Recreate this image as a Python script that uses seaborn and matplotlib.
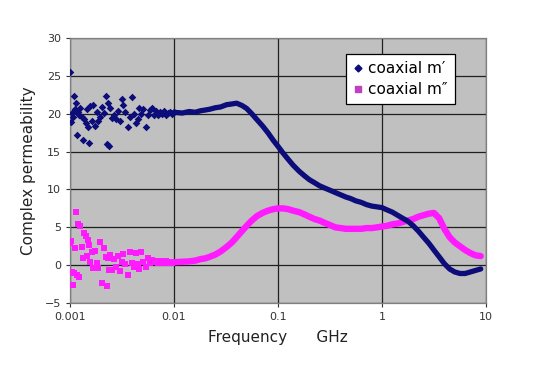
import numpy as np
import pandas as pd
import matplotlib
matplotlib.use('Agg')
import matplotlib.pyplot as plt
from matplotlib.lines import Line2D
import seaborn as sns

# --- DATA ---
# noisy low-frequency part, GHz
LF_FREQ = [0.001000, 0.001022, 0.001045, 0.001069, 0.001093, 0.001117, 0.001142, 0.001168,
           0.001194, 0.001220, 0.001248, 0.001305, 0.001334, 0.001363, 0.001425, 0.001457,
           0.001490, 0.001523, 0.001557, 0.001628, 0.001664, 0.001740, 0.001818, 0.001859,
           0.001943, 0.002031, 0.002123, 0.002219, 0.002269, 0.002320, 0.002371, 0.002424,
           0.002534, 0.002649, 0.002769, 0.002894, 0.003025, 0.003162, 0.003233, 0.003380,
           0.003612, 0.003776, 0.003947, 0.004126, 0.004313, 0.004509, 0.004610, 0.004818,
           0.005037, 0.005382, 0.005623, 0.005878, 0.006144, 0.006423, 0.006714, 0.007019,
           0.007337, 0.007669, 0.008017, 0.008381, 0.008761, 0.009158, 0.009567, 0.010000]
LF_M1 = [25.5, 18.9, 20.1, 19.6, 22.3, 20.6, 21.4, 17.2,
         20.3, 19.9, 20.8, 19.6, 16.6, 19.3, 18.8, 20.6,
         18.3, 16.1, 21.0, 19.0, 21.2, 18.4, 20.2, 19.1,
         19.6, 20.9, 20.1, 22.3, 16.0, 21.4, 15.7, 20.7,
         19.5, 19.9, 19.3, 20.4, 19.0, 21.9, 21.2, 20.3,
         18.3, 19.6, 22.2, 20.0, 18.8, 19.3, 20.7, 20.0,
         20.6, 18.3, 19.8, 20.5, 20.8, 19.9, 20.4, 19.8,
         20.3, 20.0, 20.4, 19.9, 20.1, 20.3, 20.0, 20.2]
LF_M2 = [2.9, 3.2, -0.9, -2.6, -1.0, 2.3, 7.0, -1.3,
         5.4, -1.6, 5.2, 2.4, 0.9, 4.2, 3.8, 1.2,
         3.3, 2.6, 0.4, 1.7, -0.4, 1.9, 0.3, -0.4,
         3.0, -2.4, 2.3, 1.1, -2.7, 0.9, -0.6, 1.4,
         -0.6, 0.8, -0.3, 1.2, -0.8, 0.4, 1.5, 0.2,
         -1.3, 1.8, 0.3, -0.3, 1.6, 0.2, -0.5, 1.8,
         0.4, -0.2, 0.9, 0.3, 0.7, 0.4, 0.6, 0.3,
         0.5, 0.4, 0.3, 0.5, 0.3, 0.4, 0.3, 0.4]

# smooth part, GHz
HF_FREQ = [0.010, 0.012, 0.014, 0.016, 0.018, 0.020, 0.022, 0.025, 0.028, 0.032,
           0.036, 0.040, 0.045, 0.050, 0.056, 0.063, 0.071, 0.080, 0.090, 0.100,
           0.112, 0.125, 0.140, 0.160, 0.180, 0.200, 0.224, 0.250, 0.280, 0.316,
           0.355, 0.400, 0.450, 0.500, 0.560, 0.630, 0.710, 0.800, 0.900, 1.00,
           1.12, 1.26, 1.41, 1.58, 1.78, 2.00, 2.24, 2.51, 2.82, 3.16,
           3.55, 3.98, 4.47, 5.01, 5.62, 6.31, 7.08, 7.94, 8.91]
HF_M1 = [20.2, 20.1, 20.3, 20.2, 20.4, 20.5, 20.6, 20.8, 20.9, 21.2,
         21.3, 21.4, 21.1, 20.7, 20.0, 19.2, 18.4, 17.5, 16.5, 15.7,
         14.8, 14.0, 13.2, 12.4, 11.8, 11.3, 10.9, 10.5, 10.2, 9.9,
         9.6, 9.3, 9.0, 8.8, 8.5, 8.3, 8.0, 7.8, 7.7, 7.6,
         7.3, 7.0, 6.6, 6.2, 5.8, 5.2, 4.5, 3.7, 2.9, 2.0,
         1.1, 0.2, -0.5, -0.9, -1.1, -1.1, -0.9, -0.7, -0.5]
HF_M2 = [0.4, 0.45, 0.5, 0.6, 0.8, 0.9, 1.1, 1.4, 1.8, 2.4,
         3.0, 3.7, 4.5, 5.2, 5.9, 6.5, 6.9, 7.2, 7.4, 7.5,
         7.5, 7.4, 7.2, 7.0, 6.7, 6.4, 6.1, 5.9, 5.6, 5.3,
         5.0, 4.9, 4.8, 4.8, 4.8, 4.8, 4.9, 4.9, 5.0, 5.1,
         5.2, 5.4, 5.5, 5.7, 5.9, 6.1, 6.4, 6.6, 6.8, 6.9,
         6.2, 4.8, 3.7, 3.0, 2.5, 2.0, 1.6, 1.3, 1.2]

LABELS = ["coaxial m\u2032", "coaxial m\u2033"]
NAVY = "#0c0c7a"
MAGENTA = "#ff1aff"

lf = pd.DataFrame({"freq": LF_FREQ, "m1": LF_M1, "m2": LF_M2})
hf = pd.DataFrame({"freq": HF_FREQ, "m1": HF_M1, "m2": HF_M2})

fig = plt.figure(figsize=(5.56, 3.85), dpi=100)
ax = fig.add_axes([0.126, 0.213, 0.748, 0.688])
ax.set_facecolor("#c0c0c0")

sns.lineplot(data=hf, x="freq", y="m2", ax=ax, color=MAGENTA, linewidth=4.6,
             solid_capstyle="round", zorder=3)
sns.scatterplot(data=lf, x="freq", y="m2", ax=ax, color=MAGENTA, marker="s", s=20,
                linewidth=0, zorder=3)
sns.lineplot(data=hf, x="freq", y="m1", ax=ax, color=NAVY, linewidth=3.8,
             solid_capstyle="round", zorder=4)
sns.scatterplot(data=lf, x="freq", y="m1", ax=ax, color=NAVY, marker="D", s=15,
                linewidth=0, zorder=4)

ax.set_xscale("log")
ax.set_xlim(0.001, 10)
ax.set_ylim(-5, 30)
ax.set_xticks([0.001, 0.01, 0.1, 1, 10])
ax.set_xticklabels(["0.001", "0.01", "0.1", "1", "10"])
ax.set_yticks(range(-5, 31, 5))
ax.minorticks_off()
ax.grid(True, color="#202020", linewidth=0.9)
ax.set_axisbelow(True)
for s in ax.spines.values():
    s.set_color("#808080")
    s.set_linewidth(0.9)
ax.tick_params(axis="both", labelsize=8, colors="#333333", length=3, width=0.8)

ax.set_xlabel("Frequency      GHz", fontsize=11, color="#222222", labelpad=6)
ax.set_ylabel("Complex permeability", fontsize=11, color="#222222", labelpad=6)

handles = [Line2D([], [], marker="D", color=NAVY, linestyle="none", markersize=3.5),
           Line2D([], [], marker="s", color="#c040c0", linestyle="none", markersize=4.5)]
leg = ax.legend(handles, LABELS, loc="upper right", bbox_to_anchor=(0.925, 0.94),
                borderaxespad=0, fontsize=11, frameon=True, fancybox=False, framealpha=1,
                edgecolor="black", handlelength=0.6, handletextpad=0.4,
                borderpad=0.45, labelspacing=0.4)
leg.get_frame().set_linewidth(0.9)

fig.savefig("out.png", dpi=100, facecolor="white")
